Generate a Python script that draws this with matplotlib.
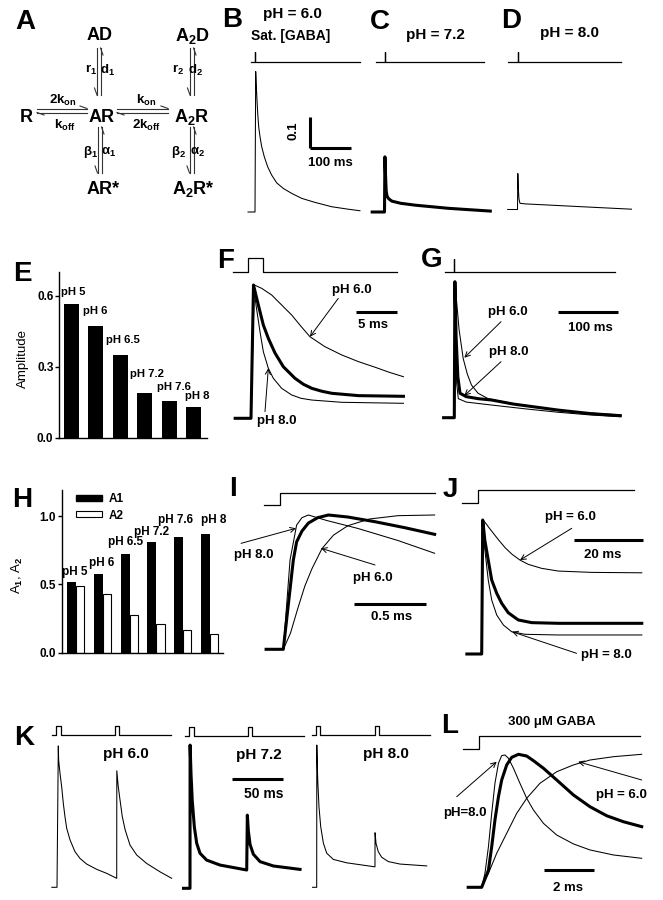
import matplotlib.pyplot as plt
from matplotlib.patches import Patch

plt.rcParams['font.family'] = ['Liberation Sans', 'DejaVu Sans']
plt.rcParams['font.weight'] = 'bold'
plt.rcParams['mathtext.fontset'] = 'custom'
plt.rcParams['mathtext.rm'] = 'Liberation Sans:bold'
plt.rcParams['mathtext.it'] = 'Liberation Sans:bold'
plt.rcParams['mathtext.bf'] = 'Liberation Sans:bold'

# ---------------- data ----------------
# E / H bar charts
ph_labels = ['pH 5', 'pH 6', 'pH 6.5', 'pH 7.2', 'pH 7.6', 'pH 8']
amplitude = [0.565, 0.47, 0.35, 0.19, 0.155, 0.13]
a1 = [0.515, 0.575, 0.725, 0.81, 0.847, 0.87]
a2 = [0.49, 0.43, 0.28, 0.21, 0.167, 0.138]

# B, C, D: saturating GABA pulse, time (ms) / amplitude
b_t = [-17, 0, 1.7, 3.2, 4.9, 6.6, 9.0, 12.2, 16.3, 22.7, 30.9, 40.7, 52.9, 69.1, 89.5,
       113.9, 146.3, 187, 227.6, 256]
b_a = [0, 0, 0.453, 0.404, 0.361, 0.318, 0.275, 0.243, 0.211, 0.178, 0.146, 0.119, 0.094,
       0.076, 0.06, 0.044, 0.031, 0.017, 0.009, 0.004]
c_t = [-30, 0, 1, 2.5, 4, 6, 10, 18, 40, 75, 115, 155, 200, 258]
c_a = [0, 0, 0.178, 0.12, 0.07, 0.052, 0.043, 0.035, 0.028, 0.022, 0.017, 0.012, 0.008, 0.003]
d_t = [-24, 0, 0.8, 2, 3.5, 6, 20, 74, 156, 278]
d_a = [0, 0, 0.116, 0.07, 0.035, 0.02, 0.018, 0.0145, 0.009, 0.001]

# F: 2 ms pulse, normalised
f6_t = [-1.9, 0, 0.4, 1.28, 2.48, 3.68, 4.88, 6.0, 7.08, 8.88, 10.9, 12.9, 14.9, 16.6, 18.3]
f6_a = [0, 0, 1.0, 0.975, 0.925, 0.85, 0.775, 0.69, 0.612, 0.537, 0.475, 0.425, 0.383,
        0.345, 0.312]
f72_t = [-1.9, 0, 0.3, 0.88, 1.48, 2.08, 2.88, 3.88, 5.28, 6.3, 7.29, 8.5, 9.7, 12.9, 18.3]
f72_a = [0, 0, 1.0, 0.85, 0.70, 0.60, 0.49, 0.387, 0.30, 0.255, 0.225, 0.203, 0.1875,
         0.17, 0.165]
f8_t = [-1.9, 0, 0.3, 0.6, 1.08, 1.48, 2.08, 2.68, 3.68, 4.88, 6.0, 7.3, 10.9, 18.3]
f8_a = [0, 0, 1.0, 0.85, 0.65, 0.50, 0.375, 0.30, 0.225, 0.175, 0.15, 0.137, 0.12, 0.1125]

# G: brief pulse, normalised
g6_t = [-18, 0, 1, 4, 8, 15, 22, 29, 40, 57, 90, 150, 210, 280]
g6_a = [0, 0, 1, 0.85, 0.65, 0.435, 0.32, 0.24, 0.18, 0.14, 0.11, 0.07, 0.04, 0.02]
g72_t = [-18, 0, 1, 3, 6, 9.6, 20, 40, 63, 100, 175, 230, 280]
g72_a = [0, 0, 1, 0.6, 0.3, 0.18, 0.155, 0.14, 0.13, 0.1, 0.056, 0.03, 0.015]
g8_t = [-18, 0, 1, 2.5, 4, 6.8, 20, 63, 120, 175, 230, 280]
g8_a = [0, 0, 1, 0.5, 0.25, 0.14, 0.115, 0.093, 0.065, 0.04, 0.02, 0.007]

# I: rising phase, normalised
i8_t = [-0.12, 0, 0.047, 0.093, 0.13, 0.175, 0.3, 0.52, 0.8, 1.056]
i8_a = [0, 0, 0.665, 0.925, 0.98, 1.0, 0.96, 0.9, 0.81, 0.715]
i72_t = [-0.12, 0, 0.07, 0.093, 0.13, 0.175, 0.24, 0.315, 0.45, 0.64, 0.85, 1.056]
i72_a = [0, 0, 0.665, 0.8, 0.88, 0.94, 0.98, 1.0, 0.985, 0.95, 0.905, 0.856]
i6_t = [-0.12, 0, 0.05, 0.1, 0.15, 0.2, 0.27, 0.35, 0.45, 0.6, 0.8, 1.056]
i6_a = [0, 0, 0.12, 0.3, 0.47, 0.6, 0.75, 0.85, 0.92, 0.97, 0.995, 1.0]

# J: desensitisation, normalised
j6_t = [-4.3, 0, 0.17, 0.96, 1.9, 3.4, 4.9, 6.8, 8.8, 11.1, 13.5, 17.4, 22.2, 31.9, 46.4]
j6_a = [0, 0, 1.0, 0.983, 0.95, 0.9, 0.851, 0.793, 0.744, 0.701, 0.669, 0.639, 0.619,
        0.609, 0.606]
j72_t = [-4.3, 0, 0.3, 0.9, 1.9, 2.9, 4.35, 5.8, 7.7, 10.6, 14.5, 22.2, 46.4]
j72_a = [0, 0, 1.0, 0.85, 0.70, 0.552, 0.453, 0.378, 0.308, 0.254, 0.234, 0.229, 0.229]
j8_t = [-4.3, 0, 0.17, 0.6, 1.25, 1.9, 2.9, 4.35, 6.3, 8.7, 12.6, 22, 46.4]
j8_a = [0, 0, 1.0, 0.85, 0.70, 0.552, 0.403, 0.291, 0.216, 0.166, 0.147, 0.142, 0.142]

# K: paired pulses
k_pulses = [0, 57]
k6_t = [-5, 0, 1.26, 1.6, 2.9, 4.5, 6.1, 7.7, 9.4, 12.6, 17.4, 22.3, 28.7, 38.4, 48.1, 57.8,
        57.9, 59.3, 61, 63.2, 66, 70.7, 77.2, 86.8, 99.7, 111]
k6_a = [0, 0, 0.456, 0.41, 0.368, 0.325, 0.271, 0.228, 0.19, 0.153, 0.115, 0.093, 0.075,
        0.058, 0.045, 0.029, 0.376, 0.325, 0.282, 0.228, 0.185, 0.136, 0.104, 0.077, 0.05, 0.029]
k72_t = [-6.5, 0, 0.1, 1, 2.2, 4.2, 6.5, 9.7, 16.1, 29, 54.9, 55.5, 56.5, 58.1, 61.3, 67.8,
         80.7, 106.5]
k72_a = [0, 0, 0.462, 0.368, 0.282, 0.198, 0.145, 0.113, 0.091, 0.075, 0.059, 0.236, 0.185,
         0.142, 0.11, 0.086, 0.072, 0.061]
k8_t = [-4, 0, 0.1, 1, 2.2, 3.9, 6.5, 9.7, 16.1, 29, 56.4, 56.5, 57.4, 59.6, 62.9, 69.3,
        80.6, 106.5]
k8_a = [0, 0, 0.459, 0.346, 0.26, 0.195, 0.142, 0.11, 0.09, 0.079, 0.066, 0.176, 0.142,
        0.115, 0.097, 0.083, 0.075, 0.069]

# L: 300 uM GABA rise
l8_t = [-0.54, 0, 0.13, 0.27, 0.4, 0.53, 0.67, 0.8, 0.93, 1.07, 1.27, 1.53, 1.8, 2.07, 2.47,
        3.0, 3.67, 4.33, 5.27, 6.4]
l8_a = [0, 0, 0.105, 0.306, 0.556, 0.782, 0.932, 0.99, 0.995, 0.97, 0.895, 0.782, 0.669,
        0.581, 0.481, 0.393, 0.326, 0.281, 0.243, 0.218]
l72_t = [-0.54, 0, 0.27, 0.4, 0.53, 0.67, 0.8, 1.0, 1.2, 1.47, 1.8, 2.07, 2.47, 3.0, 3.67,
         4.33, 5.0, 5.67, 6.4]
l72_a = [0, 0, 0.13, 0.305, 0.506, 0.681, 0.807, 0.92, 0.977, 1.0, 0.987, 0.952, 0.895,
         0.807, 0.694, 0.606, 0.538, 0.493, 0.456]
l6_t = [-0.54, 0, 0.27, 0.6, 1.0, 1.4, 1.8, 2.33, 3.0, 3.67, 4.33, 5.27, 6.4]
l6_a = [0, 0, 0.105, 0.256, 0.406, 0.556, 0.669, 0.782, 0.869, 0.92, 0.957, 0.982, 1.0]

# label offsets (points) for the bar annotations
e_dx = [-1.7, -3.8, -4.8, -5.3, -3.6, -0.6]
e_dy = [8.9, 10.8, 10.8, 13.5, 10.2, 8.0]
h_dx = [2.3, 2.7, 0.3, 0, -2.4, 5.8]
h_dy = [7.6, 7.9, 8.1, 7.0, 12, 9.6]

# ---------------- figure ----------------
FW, FH = 663, 900
fig = plt.figure(figsize=(FW / 100, FH / 100), dpi=100)

THIN = 0.75
THICK = 2.2
BAR = 2.2
FS = 9.5


def box(x0, y0, x1, y1):
    return [x0 / FW, 1 - y1 / FH, (x1 - x0) / FW, (y1 - y0) / FH]


def panel(ox, oy, sx, sy, xlim, ylim):
    # ox, oy: pixel of data origin; sx, sy: pixels per data unit
    ax = fig.add_axes(box(ox + xlim[0] * sx, oy - ylim[1] * sy,
                          ox + xlim[1] * sx, oy - ylim[0] * sy))
    ax.set_xlim(xlim)
    ax.set_ylim(ylim)
    ax.set_axis_off()
    ax.patch.set_visible(False)
    return ax


def letter(x, y, s):
    fig.text(x / FW, 1 - y / FH, s, fontsize=20, ha='center', va='center')


def arrow(ax, start, end):
    ax.annotate('', xy=end, xytext=start,
                arrowprops=dict(arrowstyle='->', lw=0.7, color='k',
                                shrinkA=0, shrinkB=0, mutation_scale=9))


def sbar(ax, x0, x1, y0, y1):
    ax.plot([x0, x1], [y0, y1], color='k', lw=BAR, solid_capstyle='butt')


# ---- A: kinetic scheme ----
axA = fig.add_axes(box(0, 0, 220, 220))
axA.set_xlim(0, 220)
axA.set_ylim(220, 0)
axA.set_axis_off()
axA.patch.set_visible(False)
sp = dict(fontsize=13, ha='center', va='center')
axA.text(100, 36, 'AD', **sp)
axA.text(192, 36, 'A$_2$D', **sp)
axA.text(26, 117, 'R', **sp)
axA.text(102, 117, 'AR', **sp)
axA.text(192, 117, 'A$_2$R', **sp)
axA.text(103, 189, 'AR*', **sp)
axA.text(193, 189, 'A$_2$R*', **sp)
rp = dict(fontsize=9.5, ha='center', va='center')
axA.text(91, 70, 'r$_1$', **rp)
axA.text(108, 70, 'd$_1$', **rp)
axA.text(178, 70, 'r$_2$', **rp)
axA.text(196, 70, 'd$_2$', **rp)
axA.text(91, 152, 'β$_1$', **rp)
axA.text(109, 152, 'α$_1$', **rp)
axA.text(179, 152, 'β$_2$', **rp)
axA.text(198, 152, 'α$_2$', **rp)
axA.text(63, 100, '2k$_{on}$', **rp)
axA.text(65, 125, 'k$_{off}$', **rp)
axA.text(146, 100, 'k$_{on}$', **rp)
axA.text(146, 125, '2k$_{off}$', **rp)

hp = dict(color='0.2', lw=0.8)


def harpoons_h(x0, x1, y_top, y_bot):
    axA.plot([x0, x1], [y_top, y_top], **hp)
    axA.plot([x1 - 7, x1], [y_top - 2.5, y_top], **hp)
    axA.plot([x0, x1], [y_bot, y_bot], **hp)
    axA.plot([x0 + 7, x0], [y_bot + 2.5, y_bot], **hp)


def harpoons_v(x_left, x_right, y0, y1):
    axA.plot([x_left, x_left], [y0, y1], **hp)
    axA.plot([x_left - 2.5, x_left], [y1 - 7, y1], **hp)
    axA.plot([x_right, x_right], [y0, y1], **hp)
    axA.plot([x_right + 2.5, x_right], [y0 + 7, y0], **hp)


harpoons_h(37, 87, 108.5, 112.5)
harpoons_h(117, 168, 108.5, 112.5)
harpoons_v(97, 100.5, 48, 95)
harpoons_v(190, 193.5, 48, 95)
harpoons_v(97.5, 101.5, 127, 173)
harpoons_v(189.5, 193.5, 127, 173)
letter(25, 22, 'A')

# ---- B, C, D ----
axB = panel(255, 212, 0.41, 310, (-25, 275), (-0.03, 0.56))
axB.plot(b_t, b_a, color='k', lw=THIN)
axB.plot([-10, 0, 0, 0, 256], [0.485, 0.485, 0.515, 0.485, 0.485], color='k', lw=0.9)
sbar(axB, 133, 133, 0.206, 0.306)
sbar(axB, 133, 233, 0.206, 0.206)
axB.text(93, 0.261, '0.1', rotation=90, fontsize=FS, ha='center', va='center')
axB.text(185, 0.158, '100 ms', fontsize=FS, ha='center', va='center')

axC = panel(384.5, 212, 0.41, 310, (-35, 275), (-0.03, 0.56))
axC.plot(c_t, c_a, color='k', lw=THICK)
axC.plot([-20, 0, 0, 0, 243], [0.485, 0.485, 0.515, 0.485, 0.485], color='k', lw=0.9)

axD = panel(517.5, 209.5, 0.41, 310, (-35, 300), (-0.03, 0.56))
axD.plot(d_t, d_a, color='k', lw=THIN)
axD.plot([-23, 0, 0, 0, 252], [0.477, 0.477, 0.507, 0.477, 0.477], color='k', lw=0.9)

fig.text(292 / FW, 1 - 14 / FH, 'pH = 6.0', fontsize=11, ha='center', va='center')
fig.text(291 / FW, 1 - 36 / FH, 'Sat. [GABA]', fontsize=10, ha='center', va='center')
fig.text(435 / FW, 1 - 35 / FH, 'pH = 7.2', fontsize=11, ha='center', va='center')
fig.text(570 / FW, 1 - 33 / FH, 'pH = 8.0', fontsize=11, ha='center', va='center')
letter(232, 20, 'B')
letter(380, 22, 'C')
letter(511, 21, 'D')

# ---- E ----
axE = fig.add_axes(box(59, 272, 207, 437.7))
axE.bar(range(len(amplitude)), amplitude, width=0.61, color='k')
axE.set_xlim(-0.5, 5.54)
axE.set_ylim(0, 0.70)
axE.set_xticks([])
axE.set_yticks([0, 0.3, 0.6], ['0.0', '0.3', '0.6'])
axE.spines[['top', 'right']].set_visible(False)
axE.spines[['left', 'bottom']].set_linewidth(1.0)
axE.tick_params(axis='y', direction='out', length=3, width=1, labelsize=8.5, pad=1)
for i, (lab, v) in enumerate(zip(ph_labels, amplitude)):
    axE.annotate(lab, (i - 0.305, v), xytext=(e_dx[i], e_dy[i]), textcoords='offset points',
                 ha='left', va='center', fontsize=8.2)
axE.set_ylabel('Amplitude', fontsize=FS)
axE.yaxis.set_label_coords(-0.205, 0.48)
letter(22, 274, 'E')

# ---- F ----
axF = panel(251, 418.3, 8.33, 133.3, (-2.4, 18.6), (-0.05, 1.25))
axF.plot(f6_t, f6_a, color='k', lw=THIN)
axF.plot(f8_t, f8_a, color='k', lw=THIN)
axF.plot(f72_t, f72_a, color='k', lw=THICK)
axF.plot([-2.2, -0.4, -0.4, 1.4, 1.4, 17.5], [1.10, 1.10, 1.20, 1.20, 1.10, 1.10], color='k', lw=0.9)
sbar(axF, 12.57, 17.57, 0.795, 0.795)
axF.text(14.6, 0.70, '5 ms', fontsize=FS, ha='center', va='center')
axF.text(12.1, 0.962, 'pH 6.0', fontsize=FS, ha='center', va='center')
arrow(axF, (10.48, 0.90), (7.08, 0.612))
axF.text(3.1, -0.02, 'pH 8.0', fontsize=FS, ha='center', va='center')
arrow(axF, (1.68, 0.05), (2.08, 0.375))
letter(226, 261, 'F')

# ---- G ----
axG = panel(454.3, 417.7, 0.593, 136, (-20, 285), (-0.05, 1.25))
axG.plot(g6_t, g6_a, color='k', lw=THIN)
axG.plot(g8_t, g8_a, color='k', lw=THIN)
axG.plot(g72_t, g72_a, color='k', lw=THICK)
axG.plot([-15.7, 0, 0, 0, 271], [1.07, 1.07, 1.17, 1.07, 1.07], color='k', lw=0.9)
sbar(axG, 175.4, 275.4, 0.775, 0.775)
axG.text(229, 0.657, '100 ms', fontsize=FS, ha='center', va='center')
axG.text(91, 0.78, 'pH 6.0', fontsize=FS, ha='center', va='center')
arrow(axG, (78.8, 0.706), (16.9, 0.441))
axG.text(91, 0.485, 'pH 8.0', fontsize=FS, ha='center', va='center')
arrow(axG, (78.8, 0.412), (16.9, 0.162))
letter(432, 260, 'G')

# ---- H ----
axH = fig.add_axes(box(61.7, 490, 222.7, 652.9))
xh = range(len(a1))
axH.bar(xh, a1, width=-0.34, align='edge', color='k', label='A1')
axH.bar(xh, a2, width=0.30, align='edge', color='w', edgecolor='k', lw=0.8, label='A2')
axH.set_xlim(-0.534, 5.47)
axH.set_ylim(0, 1.19)
axH.set_xticks([])
axH.set_yticks([0, 0.5, 1.0], ['0.0', '0.5', '1.0'])
axH.spines[['top', 'right']].set_visible(False)
axH.spines[['left', 'bottom']].set_linewidth(1.0)
axH.tick_params(axis='y', direction='out', length=3, width=1, labelsize=8.5, pad=1)
for i, (lab, v) in enumerate(zip(ph_labels, a1)):
    axH.annotate(lab, (i - 0.17, v), xytext=(h_dx[i], h_dy[i]), textcoords='offset points',
                 ha='center', va='center', fontsize=8.5)
axH.legend(handles=[Patch(facecolor='k', edgecolor='k', label='A1'),
                    Patch(facecolor='w', edgecolor='k', lw=0.8, label='A2')],
           loc='upper left', bbox_to_anchor=(0.04, 1.03), frameon=False, fontsize=8.5,
           handlelength=2.2, handleheight=0.45, labelspacing=0.35, handletextpad=0.5,
           borderpad=0.2)
axH.set_ylabel('A$_1$, A$_2$', fontsize=FS)
axH.yaxis.set_label_coords(-0.225, 0.478)
letter(22, 500, 'H')

# ---- I ----
axI = panel(283.3, 649.3, 143.3, 134.3, (-0.15, 1.07), (-0.05, 1.25))
axI.plot(i6_t, i6_a, color='k', lw=THIN)
axI.plot(i8_t, i8_a, color='k', lw=THIN)
axI.plot(i72_t, i72_a, color='k', lw=THICK)
axI.plot([-0.133, -0.023, -0.023, 1.059], [1.074, 1.074, 1.166, 1.166], color='k', lw=0.9)
sbar(axI, 0.495, 0.996, 0.337, 0.337)
axI.text(0.757, 0.238, '0.5 ms', fontsize=FS, ha='center', va='center')
axI.text(-0.209, 0.702, 'pH 8.0', fontsize=FS, ha='center', va='center')
arrow(axI, (-0.295, 0.789), (0.0886, 0.901))
axI.text(0.628, 0.529, 'pH 6.0', fontsize=FS, ha='center', va='center')
arrow(axI, (0.64, 0.628), (0.263, 0.752))
letter(233, 489, 'I')

# ---- J ----
axJ = panel(481.7, 654, 3.45, 134, (-6.5, 47.5), (-0.05, 1.3))
axJ.plot(j6_t, j6_a, color='k', lw=THIN)
axJ.plot(j8_t, j8_a, color='k', lw=THIN)
axJ.plot(j72_t, j72_a, color='k', lw=THICK)
axJ.plot([-5.8, -1.16, -1.16, 44.2], [1.125, 1.125, 1.224, 1.224], color='k', lw=0.9)
sbar(axJ, 26.8, 46.8, 0.851, 0.851)
axJ.text(35.1, 0.739, '20 ms', fontsize=FS, ha='center', va='center')
axJ.text(25.6, 1.025, 'pH = 6.0', fontsize=FS, ha='center', va='center')
arrow(axJ, (26.1, 0.938), (11.1, 0.701))
axJ.text(36.2, -0.007, 'pH = 8.0', fontsize=FS, ha='center', va='center')
arrow(axJ, (27.5, 0.005), (8.8, 0.166))
letter(450, 490, 'J')

# ---- K ----
k_specs = [(57, 887.3, k6_t, k6_a, THIN, 'pH 6.0'),
           (190, 888.3, k72_t, k72_a, THICK, 'pH 7.2'),
           (316.7, 887.3, k8_t, k8_a, THIN, 'pH 8.0')]
k_axes = []
for ox, oy, kt, ka, lw, lab in k_specs:
    ax = panel(ox, oy, 1.033, 310, (-8, 115), (-0.03, 0.53))
    ax.plot(kt, ka, color='k', lw=lw)
    st, sv = [-5], [0.49]
    for p in k_pulses:
        st += [p - 0.5, p - 0.5, p + 3.5, p + 3.5]
        sv += [0.49, 0.52, 0.52, 0.49]
    st.append(110)
    sv.append(0.49)
    ax.plot(st, sv, color='k', lw=0.9)
    ax.text(67, 0.43, lab, fontsize=11, ha='center', va='center')
    k_axes.append(ax)
sbar(k_axes[1], 40.4, 90.4, 0.352, 0.352)
k_axes[1].text(71, 0.303, '50 ms', fontsize=10, ha='center', va='center')
letter(24, 738, 'K')

# ---- L ----
axL = panel(481.7, 887.3, 25, 133, (-0.9, 6.5), (-0.05, 1.25))
axL.plot(l6_t, l6_a, color='k', lw=THIN)
axL.plot(l8_t, l8_a, color='k', lw=THIN)
axL.plot(l72_t, l72_a, color='k', lw=THICK)
axL.plot([-0.76, -0.1, -0.1, 6.33], [1.042, 1.042, 1.14, 1.14], color='k', lw=0.9)
sbar(axL, 2.49, 4.49, 0.13, 0.13)
axL.text(3.46, -0.008, '2 ms', fontsize=FS, ha='center', va='center')
axL.text(2.8, 1.245, '300 μM GABA', fontsize=FS, ha='center', va='center')
axL.text(-0.668, 0.556, 'pH=8.0', fontsize=FS, ha='center', va='center')
arrow(axL, (-1.0, 0.681), (0.6, 0.944))
axL.text(5.6, 0.694, 'pH = 6.0', fontsize=FS, ha='center', va='center')
arrow(axL, (6.4, 0.807), (3.86, 0.944))
letter(450, 726, 'L')

fig.savefig('out.png', dpi=100)
